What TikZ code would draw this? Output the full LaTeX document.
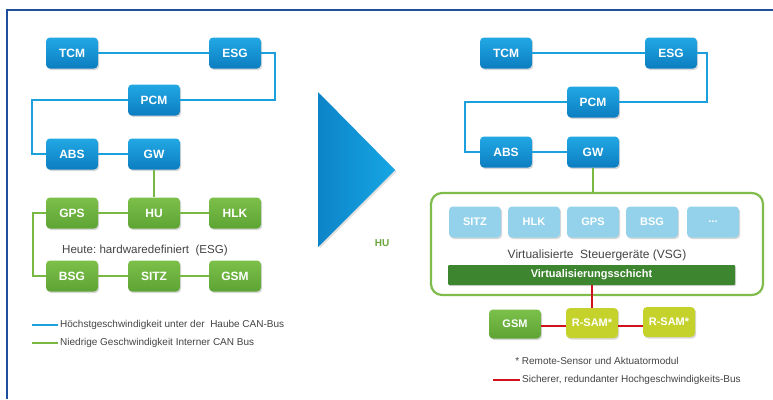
\documentclass[tikz,border=0pt]{standalone}
\usepackage{fontspec}
\setmainfont{Liberation Sans}
\usetikzlibrary{shadows}
\definecolor{frameblue}{HTML}{1F4E9A}
\definecolor{busblue}{HTML}{1AA0DC}
\definecolor{nodeblueT}{HTML}{22A8E4}
\definecolor{nodeblueB}{HTML}{0B7DC0}
\definecolor{busgreen}{HTML}{78B843}
\definecolor{nodegreenT}{HTML}{7CC04A}
\definecolor{nodegreenB}{HTML}{5EA434}
\definecolor{lightblue}{HTML}{93D2EA}
\definecolor{darkgreen}{HTML}{3E8530}
\definecolor{yellowgreen}{HTML}{C6D22C}
\definecolor{busred}{HTML}{D0121C}
\definecolor{textgrey}{HTML}{444444}
\definecolor{trileft}{HTML}{0C84C8}
\definecolor{triright}{HTML}{16A6E4}
\tikzset{
  box/.style={minimum width=52pt, minimum height=31pt, rounded corners=4pt, inner sep=0pt,
    text=white, font=\bfseries\fontsize{12}{12}\selectfont,
    drop shadow={shadow xshift=1.2pt, shadow yshift=-1.5pt, opacity=0.3}},
  bnode/.style={box, top color=nodeblueT, bottom color=nodeblueB},
  gnode/.style={box, top color=nodegreenT, bottom color=nodegreenB},
  vnode/.style={box, fill=lightblue, font=\bfseries\fontsize{11}{11}\selectfont},
  ynode/.style={box, fill=yellowgreen, minimum height=30pt, font=\bfseries\fontsize{11}{11}\selectfont},
  bbus/.style={busblue, line width=2pt},
  gbus/.style={busgreen, line width=2pt},
  rbus/.style={busred, line width=2pt},
  legend/.style={text=textgrey, font=\fontsize{10}{10}\selectfont, anchor=west, inner sep=0pt},
}
\begin{document}
\begin{tikzpicture}[x=1pt,y=-1pt]
\useasboundingbox (0,0) rectangle (773,399);
\fill[white] (0,0) rectangle (773,399);
% frame
\draw[frameblue, line width=1.2pt] (7,399) -- (7,10) -- (773,10);

% ---------- left side ----------
\node[bnode] (tcm) at (72,53) {TCM};
\node[bnode] (esg) at (235,53) {ESG};
\node[bnode] (pcm) at (154,100) {PCM};
\node[bnode] (abs) at (72,154) {ABS};
\node[bnode] (gw) at (154,154) {GW};
\node[gnode] (gps) at (72,213) {GPS};
\node[gnode] (hu) at (154,213) {HU};
\node[gnode] (hlk) at (235,213) {HLK};
\node[gnode] (bsg) at (72,276) {BSG};
\node[gnode] (sitz) at (154,276) {SITZ};
\node[gnode] (gsm) at (235,276) {GSM};
\node[text=textgrey, font=\fontsize{11.6}{11.6}\selectfont] (heute) at (145,250) {Heute:\ hardwaredefiniert\ \ (ESG)};

\draw[bbus] (tcm) -- (esg);
\draw[bbus] (esg.east) -| (275,100) -- (pcm.east);
\draw[bbus] (pcm.west) -| (32,154) -- (abs.west);
\draw[bbus] (abs) -- (gw);
\draw[gbus] (gw) -- (hu);
\draw[gbus] (gps) -- (hu);
\draw[gbus] (hu) -- (hlk);
\draw[gbus] (gps.west) -| (33,276) -- (bsg.west);
\draw[gbus] (bsg) -- (sitz);
\draw[gbus] (sitz) -- (gsm);

% legend left
\coordinate (lb1) at (32,325); \coordinate (lb2) at (58,325);
\draw[bbus] (lb1) -- (lb2);
\node[legend] (lt1) at (60,325) {Höchstgeschwindigkeit unter der\ \ Haube CAN-Bus};
\coordinate (lg1) at (32,343); \coordinate (lg2) at (58,343);
\draw[gbus] (lg1) -- (lg2);
\node[legend] (lt2) at (60,343) {Niedrige Geschwindigkeit Interner CAN Bus};

% ---------- arrow triangle ----------
\shade[left color=trileft, right color=triright, drop shadow={shadow xshift=1.5pt, shadow yshift=-1.5pt, opacity=0.25}]
  (318,92) -- (395,170) -- (318,247) -- cycle;
\node[text=busgreen!90!black, font=\bfseries\fontsize{10}{10}\selectfont] (hul) at (382,243) {HU};

% ---------- right side ----------
\node[bnode] (tcm2) at (506,53) {TCM};
\node[bnode] (esg2) at (671,53) {ESG};
\node[bnode] (pcm2) at (593,102) {PCM};
\node[bnode] (abs2) at (506,152) {ABS};
\node[bnode] (gw2) at (593,152) {GW};
\draw[bbus] (tcm2) -- (esg2);
\draw[bbus] (esg2.east) -| (707,102) -- (pcm2.east);
\draw[bbus] (pcm2.west) -| (465,152) -- (abs2.west);
\draw[bbus] (abs2) -- (gw2);

\node[draw=busgreen!95!white, line width=2.2pt, rounded corners=11pt, minimum width=332pt, minimum height=102pt,
  inner sep=0pt, fill=white] (vm) at (597,244) {};
\draw[gbus] (gw2) -- (vm.north -| gw2);

\node[vnode] (v1) at (475,222) {SITZ};
\node[vnode] (v2) at (534,222) {HLK};
\node[vnode] (v3) at (593,222) {GPS};
\node[vnode] (v4) at (652,222) {BSG};
\node[vnode] (v5) at (713,222) {...};
\node[text=textgrey, font=\fontsize{12}{12}\selectfont] (vsg) at (597,255) {Virtualisierte\ \ Steuergeräte (VSG)};
\node[fill=darkgreen, minimum width=287pt, minimum height=20pt, inner sep=0pt, rounded corners=1pt, text=white,
  font=\bfseries\fontsize{11}{11}\selectfont,
  drop shadow={shadow xshift=1pt, shadow yshift=-1.2pt, opacity=0.3}] (vs) at (591.5,275) {Virtualisierungsschicht};

\node[gnode, minimum height=29pt, font=\bfseries\fontsize{11}{11}\selectfont] (gsm2) at (515,324) {GSM};
\node[ynode] (rs1) at (592,323) {R-SAM*};
\node[ynode] (rs2) at (669,322) {R-SAM*};
\draw[rbus] (vs.south -| rs1) -- (rs1.north);
\draw[rbus] (gsm2.east |- 0,326) -- (rs1.west |- 0,326);
\draw[rbus] (rs1.east |- 0,326) -- (rs2.west |- 0,326);

\node[text=textgrey, font=\fontsize{10}{10}\selectfont] (rem) at (597,361) {* Remote-Sensor und Aktuatormodul};
\coordinate (lr1) at (493,380); \coordinate (lr2) at (520,380);
\draw[rbus] (lr1) -- (lr2);
\node[legend] (lt3) at (522,380) {Sicherer, redundanter Hochgeschwindigkeits-Bus};
\end{tikzpicture}
\end{document}
